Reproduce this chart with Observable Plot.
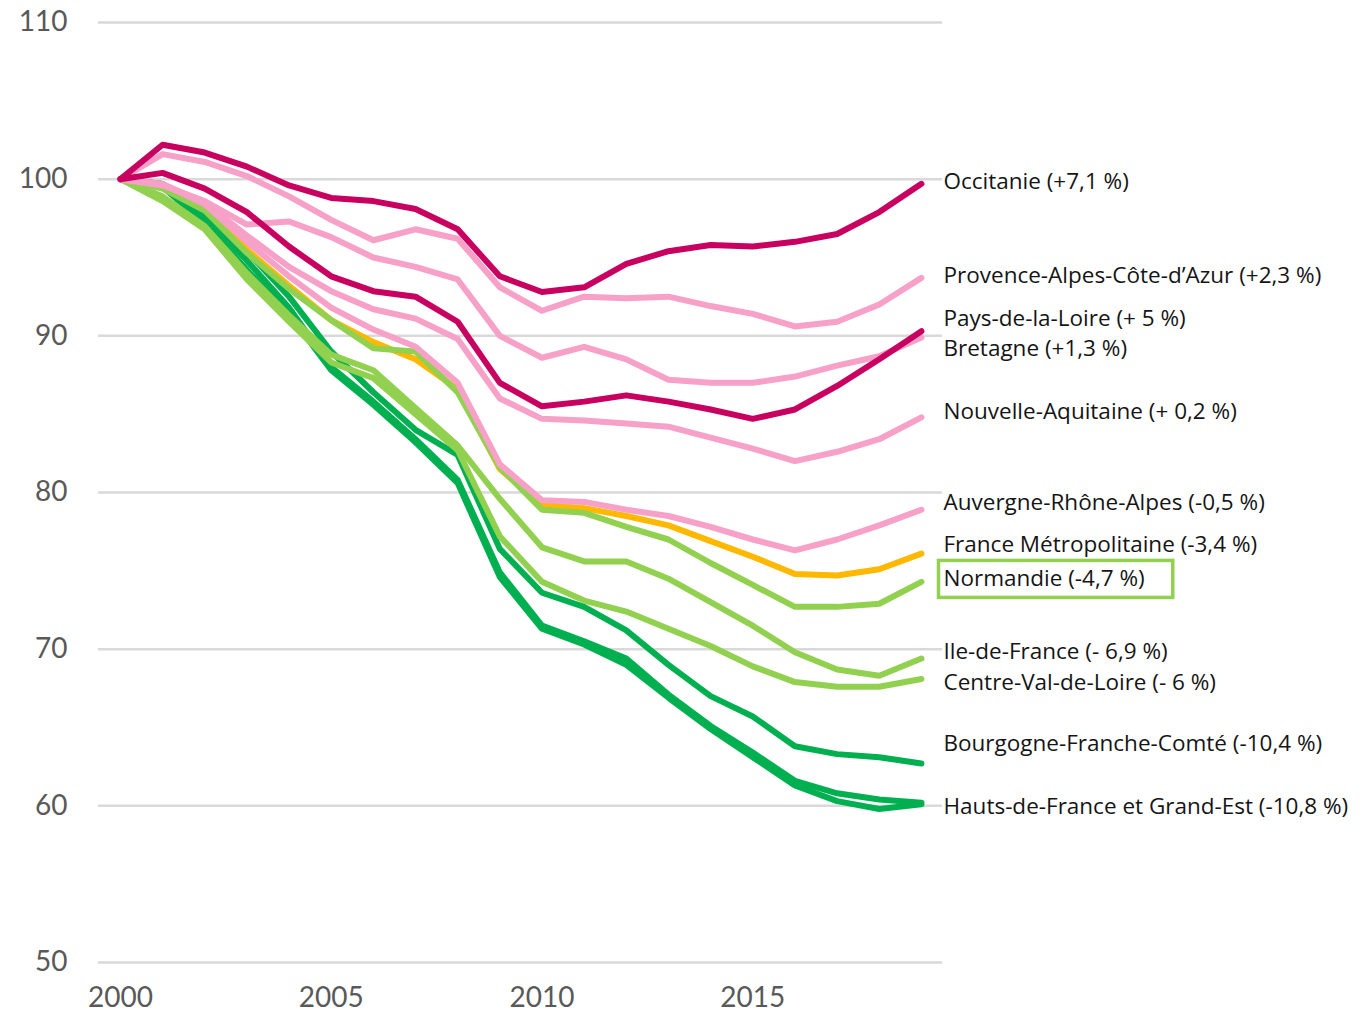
<!DOCTYPE html>
<html><head><meta charset="utf-8">
<script src="https://cdn.jsdelivr.net/npm/d3@7"></script>
<script src="https://cdn.jsdelivr.net/npm/@observablehq/plot@0.6"></script>
<style>
html,body{margin:0;padding:0;background:#fff;}
#chart{width:1367px;height:1016px;overflow:hidden;}
</style></head>
<body><div id="chart"></div>
<script>
// ---- data (index, base 100 en 2000) ----
const years = [2000,2001,2002,2003,2004,2005,2006,2007,2008,2009,2010,2011,2012,2013,2014,2015,2016,2017,2018,2019];

const hautsDeFrance = [100,99.7,97.6,94.8,91.8,88.0,85.8,83.4,80.8,74.9,71.5,70.5,69.4,67.1,65.1,63.4,61.6,60.8,60.4,60.2];
const grandEst = [100,99.5,97.2,94.2,91.4,87.8,85.6,83.2,80.6,74.6,71.3,70.3,69.0,66.9,64.9,63.1,61.3,60.3,59.8,60.1];
const bourgogneFC = [100,99.7,97.8,95.4,92.5,89.0,86.4,84.0,82.4,76.4,73.6,72.7,71.2,69.0,67.0,65.7,63.8,63.3,63.1,62.7];
const franceMetro = [100,99.6,98.2,95.5,93.2,91.0,89.6,88.5,86.6,81.5,79.2,79.0,78.5,77.9,76.9,75.9,74.8,74.7,75.1,76.1];
const centreVdL = [100,98.6,96.8,93.6,90.9,88.3,87.3,85.0,82.7,77.2,74.3,73.1,72.4,71.3,70.2,68.9,67.9,67.6,67.6,68.1];
const ileDeFrance = [100,98.9,97.0,94.0,91.3,88.8,87.8,85.4,83.0,79.6,76.5,75.6,75.6,74.5,73.0,71.5,69.8,68.7,68.3,69.4];
const normandie = [100,99.4,98.0,95.3,93.0,91.0,89.2,89.0,86.4,81.6,78.9,78.7,77.8,77.0,75.5,74.1,72.7,72.7,72.9,74.3];
const auvergneRA = [100,99.7,98.4,96.0,93.8,91.8,90.4,89.3,87.0,81.8,79.5,79.4,78.9,78.5,77.8,77.0,76.3,77.0,77.9,78.9];
const nouvelleAq = [100,99.7,98.5,96.4,94.4,92.85,91.7,91.1,89.8,86.0,84.7,84.6,84.4,84.2,83.5,82.8,82.0,82.6,83.4,84.8];
const bretagne = [100,99.6,98.6,97.1,97.3,96.3,95.0,94.4,93.6,90.0,88.6,89.3,88.5,87.2,87.0,87.0,87.4,88.1,88.7,89.9];
const paca = [100,101.6,101.1,100.2,98.9,97.4,96.1,96.8,96.2,93.1,91.6,92.5,92.4,92.5,91.9,91.4,90.6,90.9,92.0,93.7];
const paysDeLaLoire = [100,100.4,99.4,97.9,95.7,93.8,92.85,92.5,90.9,87.0,85.5,85.8,86.2,85.8,85.3,84.7,85.3,86.8,88.5,90.3];
const occitanie = [100,102.2,101.7,100.8,99.6,98.8,98.6,98.1,96.8,93.8,92.8,93.1,94.6,95.4,95.8,95.7,96.0,96.5,97.9,99.7];

// series in drawing order (name, values, group)
const seriesNames = ["Hauts-de-France","Grand-Est","Bourgogne-Franche-Comté","France Métropolitaine","Centre-Val-de-Loire","Ile-de-France","Normandie","Auvergne-Rhône-Alpes","Nouvelle-Aquitaine","Bretagne","Provence-Alpes-Côte-d’Azur","Pays-de-la-Loire","Occitanie"];
const seriesValues = [hautsDeFrance,grandEst,bourgogneFC,franceMetro,centreVdL,ileDeFrance,normandie,auvergneRA,nouvelleAq,bretagne,paca,paysDeLaLoire,occitanie];
const seriesGroup = ["baisse forte","baisse forte","baisse forte","France","baisse","baisse","baisse","hausse","hausse","hausse","hausse","hausse forte","hausse forte"];

// right-hand labels and the value at which each one sits
const labelTexts = ["Occitanie (+7,1 %)","Provence-Alpes-Côte-d’Azur (+2,3 %)","Pays-de-la-Loire (+ 5 %)","Bretagne (+1,3 %)","Nouvelle-Aquitaine (+ 0,2 %)","Auvergne-Rhône-Alpes (-0,5 %)","France Métropolitaine (-3,4 %)","Normandie (-4,7 %)","Ile-de-France (- 6,9 %)","Centre-Val-de-Loire (- 6 %)","Bourgogne-Franche-Comté (-10,4 %)","Hauts-de-France et Grand-Est (-10,8 %)"];
const labelValues = [99.8,93.8,91.0,89.1,85.1,79.3,76.6,74.4,69.8,67.8,63.9,59.9];
const highlightedLabel = "Normandie (-4,7 %)";

const xTicks = [2000,2005,2010,2015];
const yTicks = [50,60,70,80,90,100,110];

// ---- styles ----
const groupDomain = ["hausse forte","hausse","France","baisse","baisse forte"];
const groupColors = ["#c80060","#f7a0c8","#ffb800","#92d050","#00b050"];

const rows = seriesNames.flatMap((name, k) =>
  years.map((year, i) => ({serie: name, group: seriesGroup[k], year, value: seriesValues[k][i]})));
const labelRows = labelTexts.map((label, i) => ({label, value: labelValues[i]}));

const chart = Plot.plot({
  width: 1367,
  height: 1016,
  marginLeft: 98,
  marginRight: 425,
  marginTop: 22,
  marginBottom: 54,
  style: {fontFamily: "Lato, sans-serif", fontSize: "28px", color: "#595959", background: "#fff", overflow: "visible"},
  x: {domain: [1999.48, 2019.5], ticks: xTicks, tickFormat: "d", tickSize: 0, tickPadding: 25, label: null},
  y: {domain: [50, 110], ticks: yTicks, tickSize: 0, tickPadding: 31, label: null},
  color: {domain: groupDomain, range: groupColors},
  marks: [
    Plot.ruleY(yTicks, {stroke: "#d9d9d9", strokeWidth: 2.5}),
    Plot.line(rows, {x: "year", y: "value", z: "serie", stroke: "group", strokeWidth: 6, strokeLinejoin: "round", strokeLinecap: "round"}),
    Plot.text(labelRows, {y: "value", text: "label", frameAnchor: "right", textAnchor: "start", dx: 1, dy: -1, fontFamily: "Open Sans, sans-serif", fontSize: 22.5, fill: "#151515"})
  ]
});
document.getElementById("chart").appendChild(chart);

// box around the highlighted label, sized from the rendered text
const svg = chart.tagName.toLowerCase() === "svg" ? chart : chart.querySelector("svg");
const target = Array.from(svg.querySelectorAll("text")).find(t => t.textContent === highlightedLabel);
if (target) {
  const bb = target.getBBox();
  const ctm = target.getCTM();
  const sctm = svg.getCTM();
  const ox = ctm && sctm ? ctm.e - sctm.e : 0;
  const oy = ctm && sctm ? ctm.f - sctm.f : 0;
  const rect = document.createElementNS("http://www.w3.org/2000/svg", "rect");
  rect.setAttribute("x", bb.x + ox - 5);
  rect.setAttribute("y", bb.y + oy - 2);
  rect.setAttribute("width", bb.width + 33);
  rect.setAttribute("height", bb.height + 6);
  rect.setAttribute("fill", "none");
  rect.setAttribute("stroke", "#92d050");
  rect.setAttribute("stroke-width", 3.5);
  svg.appendChild(rect);
}
</script>
</body></html>
